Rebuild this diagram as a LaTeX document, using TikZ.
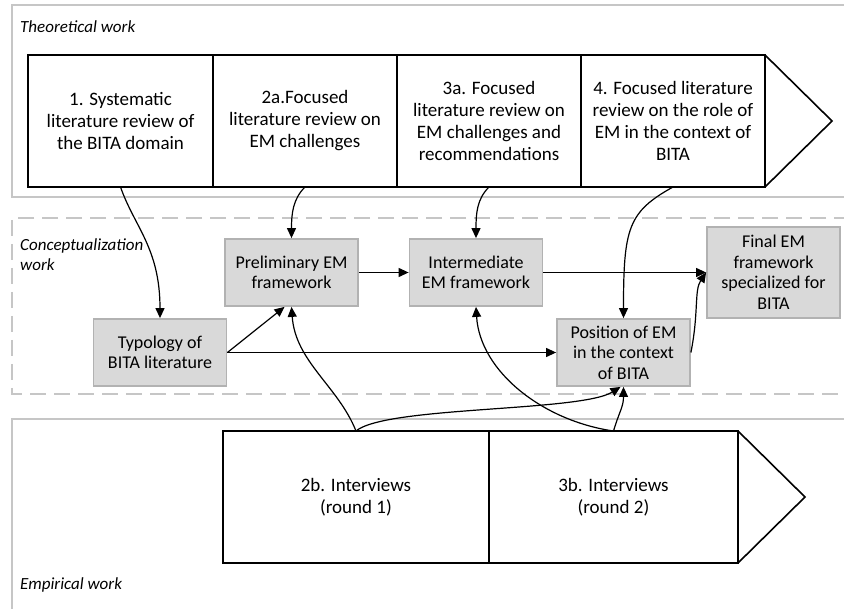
\documentclass[tikz,border=0pt]{standalone}
\usepackage{fontspec}
\setmainfont{Carlito}
\usetikzlibrary{arrows.meta, calc}

\begin{document}
\begin{tikzpicture}[x=1pt, y=-1pt,
  stage/.style={draw, line width=1.6pt, outer sep=0pt, inner sep=0pt, minimum height=132pt, align=center, font=\fontsize{19}{22}\selectfont},
  gbox/.style={draw=gray!60, fill=gray!30, line width=1.8pt, inner sep=0pt, minimum width=133pt, minimum height=67pt, align=center, font=\fontsize{18}{20.5}\selectfont},
  arr/.style={line width=1.2pt, -{Triangle[length=10pt, width=9pt]}},
  panel/.style={draw=gray!45, line width=2.5pt},
  lane/.style={inner sep=0pt, anchor=north west, align=left, font=\fontsize{17}{20}\selectfont\itshape}]
\useasboundingbox (0,0) rectangle (844,609);

% lanes
\draw[panel] (850,5) -- (12,5) -- (12,197) -- (850,197);
\draw[panel, dash pattern=on 16pt off 8pt] (850,218) -- (12,218) -- (12,394) -- (850,394);
\draw[panel] (850,419) -- (12,419) -- (12,620);
\node[lane] (theo) at (20,21) {Theoretical work};
\node[lane] (concept) at (20,238) {Conceptualization\\work};
\node[lane] (empir) at (20,577) {Empirical work};

% theoretical chevron
\node[stage, minimum width=185pt] (s1) at (120.5,121) {1. Systematic\\literature review of\\the BITA domain};
\node[stage, minimum width=184pt] (s2) at (305,121) {2a.Focused\\literature review on\\EM challenges};
\node[stage, minimum width=184pt] (s3) at (489,121) {3a. Focused\\literature review on\\EM challenges and\\recommendations};
\node[stage, minimum width=184pt] (s4) at (673,121) {4. Focused literature\\review on the role of\\EM in the context of\\BITA};
\draw[line width=1.6pt] (s4.north east) -- ($(s4.east)+(67,0)$) -- (s4.south east);

% empirical chevron
\node[stage, minimum width=266pt] (i1) at (356,497) {2b. Interviews\\(round 1)};
\node[stage, minimum width=249pt] (i2) at (613.5,497) {3b. Interviews\\(round 2)};
\draw[line width=1.6pt] (i2.north east) -- ($(i2.east)+(67,0)$) -- (i2.south east);

% conceptualization boxes
\node[gbox] (pre) at (291.5,272.5) {Preliminary EM\\framework};
\node[gbox] (inter) at (476,272.5) {Intermediate\\EM framework};
\node[gbox, minimum height=91pt] (final) at (773.5,272.5) {Final EM\\framework\\specialized for\\BITA};
\node[gbox] (typo) at (160,352.5) {Typology of\\BITA literature};
\node[gbox] (pos) at (623.5,352.5) {Position of EM\\in the context\\of BITA};

% connectors
\draw[arr] (s1.south) .. controls +(14,40) and +(0,-70) .. (typo.north);
\draw[arr] (s2.south) .. controls +(-12,12) and +(0,-25) .. (pre.north);
\draw[arr] (s3.south) .. controls +(-12,12) and +(0,-25) .. (inter.north);
\draw[arr] (s4.south) .. controls +(-45,25) and +(0,-90) .. (pos.north);
\draw[arr] (pre) -- (inter);
\draw[arr] (inter) -- (final);
\draw[arr] (typo.east) -- (pos.west);
\draw[arr] (typo.east) -- ($(pre.south)+(-7,0)$);
\draw[arr] (pos.east) .. controls +(8,-40) and +(-12,18) .. (final.west);
\draw[arr] (i1.north) .. controls +(-18,-45) and +(4,55) .. (pre.south);
\draw[arr] (i1.north) .. controls +(30,-25) and +(-40,25) .. ($(pos.south)+(-3,0)$);
\draw[arr] (i2.north) .. controls +(-70,-10) and +(4,65) .. (inter.south);
\draw[arr] (i2.north) .. controls +(6,-20) and +(0,20) .. (pos.south);
\end{tikzpicture}
\end{document}
